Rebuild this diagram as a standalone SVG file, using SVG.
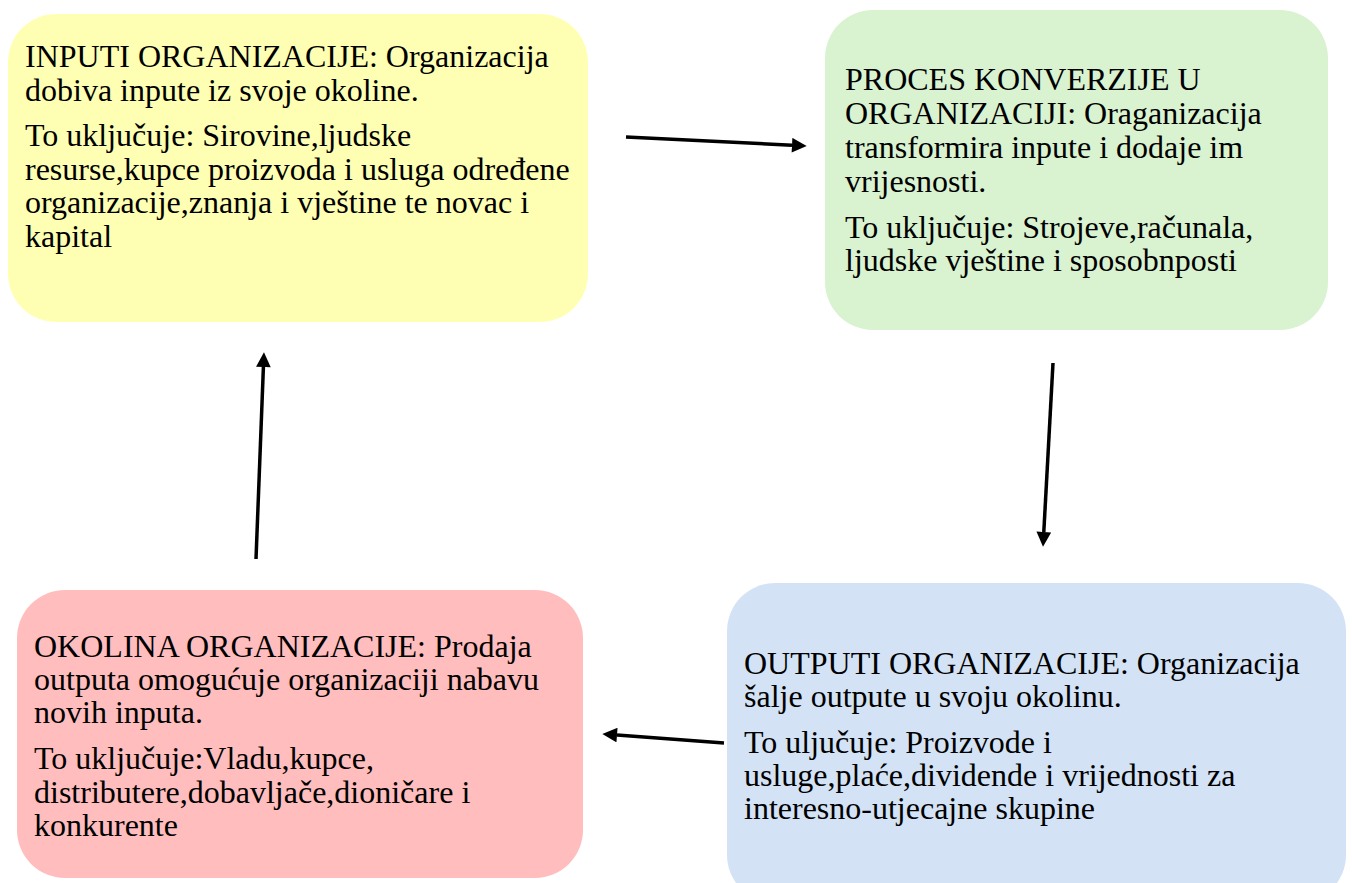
<svg xmlns="http://www.w3.org/2000/svg" width="1352" height="883" viewBox="0 0 1352 883">
<style>
.t{font-family:"Liberation Serif","Times New Roman",serif;font-size:32px;fill:#000}
.c{stroke:#000;stroke-width:3.5;fill:none}
</style>
<defs>
<marker id="ah" viewBox="0 0 10 10" refX="0" refY="5" markerWidth="4.4" markerHeight="4.2" orient="auto" markerUnits="strokeWidth">
<path d="M0,0 L10,5 L0,10 z" fill="#000"/>
</marker>
</defs>
<rect width="1352" height="883" fill="#fff"/>
<g id="inputi">
<rect x="8" y="14" width="580" height="308" rx="48" fill="#ffffb3"/>
<text class="t" x="25" y="67">INPUTI ORGANIZACIJE: Organizacija</text>
<text class="t" x="25" y="101">dobiva inpute iz svoje okoline.</text>
<text class="t" x="25" y="146">To uključuje: Sirovine,ljudske</text>
<text class="t" x="25" y="180">resurse,kupce proizvoda i usluga određene</text>
<text class="t" x="25" y="213">organizacije,znanja i vještine te novac i</text>
<text class="t" x="25" y="247">kapital</text>
</g>
<g id="proces">
<rect x="825" y="10" width="503" height="320" rx="48" fill="#d9f2d0"/>
<text class="t" x="845" y="90">PROCES KONVERZIJE U</text>
<text class="t" x="845" y="124">ORGANIZACIJI: Oraganizacija</text>
<text class="t" x="845" y="158">transformira inpute i dodaje im</text>
<text class="t" x="845" y="192">vrijesnosti.</text>
<text class="t" x="845" y="238">To uključuje: Strojeve,računala,</text>
<text class="t" x="845" y="271">ljudske vještine i sposobnposti</text>
</g>
<g id="outputi">
<rect x="727" y="583" width="619" height="320" rx="48" fill="#d3e3f5"/>
<text class="t" x="744" y="674">OUTPUTI ORGANIZACIJE: Organizacija</text>
<text class="t" x="744" y="707">šalje outpute u svoju okolinu.</text>
<text class="t" x="744" y="753">To uljučuje: Proizvode i</text>
<text class="t" x="744" y="786">usluge,plaće,dividende i vrijednosti za</text>
<text class="t" x="744" y="819">interesno-utjecajne skupine</text>
</g>
<g id="okolina">
<rect x="17" y="590" width="566" height="288" rx="48" fill="#ffbdbd"/>
<text class="t" x="34" y="657">OKOLINA ORGANIZACIJE: Prodaja</text>
<text class="t" x="34" y="690">outputa omogućuje organizaciji nabavu</text>
<text class="t" x="34" y="723">novih inputa.</text>
<text class="t" x="34" y="769">To uključuje:Vladu,kupce,</text>
<text class="t" x="34" y="803">distributere,dobavljače,dioničare i</text>
<text class="t" x="34" y="836">konkurente</text>
</g>
<g id="connectors">
<line class="c" x1="626" y1="137" x2="792" y2="145.2" marker-end="url(#ah)"/>
<line class="c" x1="1053" y1="363" x2="1043.8" y2="532" marker-end="url(#ah)"/>
<line class="c" x1="724" y1="743" x2="617" y2="735" marker-end="url(#ah)"/>
<line class="c" x1="256" y1="559" x2="263.4" y2="367" marker-end="url(#ah)"/>
</g>
</svg>
